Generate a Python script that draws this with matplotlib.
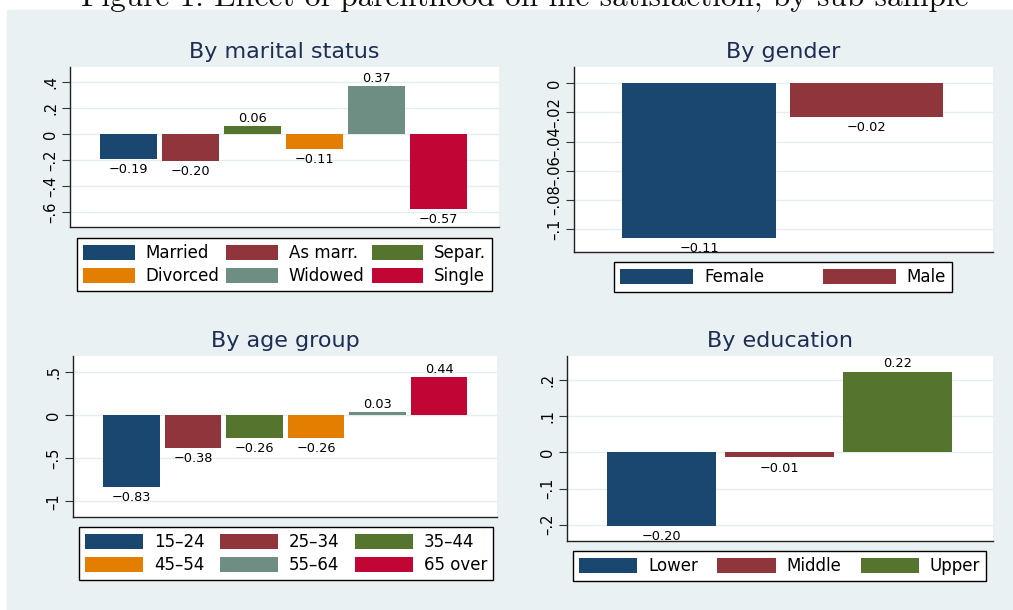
import matplotlib.pyplot as plt
from matplotlib.patches import Rectangle

# values
marital_cats = ["Married", "As marr.", "Separ.", "Divorced", "Widowed", "Single"]
marital_vals = [-0.194, -0.204, 0.061, -0.114, 0.369, -0.574]
marital_yticks = [-0.6, -0.4, -0.2, 0.0, 0.2, 0.4]
marital_ylabels = ["–.6", "–.4", "–.2", "0", ".2", ".4"]

gender_cats = ["Female", "Male"]
gender_vals = [-0.106, -0.023]
gender_yticks = [-0.1, -0.08, -0.06, -0.04, -0.02, 0.0]
gender_ylabels = ["–.1", "–.08", "–.06", "–.04", "–.02", "0"]

age_cats = ["15–24", "25–34", "35–44", "45–54", "55–64", "65 over"]
age_vals = [-0.834, -0.381, -0.262, -0.263, 0.031, 0.438]
age_yticks = [-1.0, -0.5, 0.0, 0.5]
age_ylabels = ["–1", "–.5", "0", ".5"]

educ_cats = ["Lower", "Middle", "Upper"]
educ_vals = [-0.203, -0.014, 0.224]
educ_yticks = [-0.2, -0.1, 0.0, 0.1, 0.2]
educ_ylabels = ["–.2", "–.1", "0", ".1", ".2"]

# stata s2color palette
colors = ["#1a476f", "#90353b", "#55752f", "#e37e00", "#6e8e84", "#c10534"]
bg = "#e9f1f3"
title_col = "#1e2d53"

W, H = 1013, 610
fig = plt.figure(figsize=(W / 100, H / 100), dpi=100)


def px(l, t, r, b):
    # pixel box -> figure fraction [left, bottom, width, height]
    return [l / W, 1 - b / H, (r - l) / W, (b - t) / H]


fig.patches.append(Rectangle((7 / W, 0), 1 - 7 / W, 1 - 10 / H,
                             transform=fig.transFigure, color=bg, zorder=-5))
fig.text(525 / W, 1 - 7 / H,
         "Figure 1: Effect of parenthood on life satisfaction, by sub-sample",
         family=["cmr10", "DejaVu Serif"], fontsize=22.5, ha="center",
         va="baseline", color="#111111")


def panel(box, title, cats, vals, yticks, ylabels, ylim, xlim,
          legbox, ncol, hlen, order=None):
    ax = fig.add_axes(px(*box))
    for i, (c, v) in enumerate(zip(cats, vals)):
        ax.bar(i, v, width=0.92, color=colors[i], label=c, zorder=2)
        txt = f"{v:.2f}".replace("-", "\u2212")
        ax.annotate(txt, (i, v), xytext=(0, 1 if v >= 0 else -3),
                    textcoords="offset points", ha="center",
                    va="bottom" if v >= 0 else "top", fontsize=9.3)
    ax.set_xlim(*xlim)
    ax.set_ylim(*ylim)
    ax.set_xticks([])
    ax.set_yticks(yticks, ylabels, rotation=90, va="center", fontsize=10.5)
    ax.tick_params(axis="y", length=5.5, width=0.8, pad=3, color="#333333")
    ax.grid(axis="y", color="#e4eef1", lw=1)
    ax.set_axisbelow(True)
    for s in ["top", "right"]:
        ax.spines[s].set_visible(False)
    for s in ["left", "bottom"]:
        ax.spines[s].set_color("#222222")
        ax.spines[s].set_linewidth(1.0)
    ax.set_title(title, fontsize=16, color=title_col, pad=6.5)

    h, l = ax.get_legend_handles_labels()
    if order:
        h = [h[k] for k in order]
        l = [l[k] for k in order]
    x0, y0, x1, y1 = legbox
    leg = ax.legend(h, l, ncol=ncol, mode="expand", loc="upper left",
                    bbox_to_anchor=(x0 / W, 1 - y1 / H, (x1 - x0) / W, (y1 - y0) / H),
                    bbox_transform=fig.transFigure, fontsize=12,
                    fancybox=False, edgecolor="black", framealpha=1,
                    borderpad=0.35, borderaxespad=0, handlelength=hlen,
                    handleheight=1.0, handletextpad=0.65, labelspacing=0.3,
                    columnspacing=0.8)
    leg.get_frame().set_linewidth(1.0)
    return ax


panel((70, 67, 499, 227), "By marital status", marital_cats, marital_vals,
      marital_yticks, marital_ylabels, (-0.715, 0.515), (-0.95, 5.98),
      (77, 238, 492, 291), 3, 3.1, order=[0, 3, 1, 4, 2, 5])
panel((574, 67, 993, 252), "By gender", gender_cats, gender_vals,
      gender_yticks, gender_ylabels, (-0.1158, 0.0112), (-0.75, 1.757),
      (614, 262, 952, 291), 2, 4.4)
panel((73, 356, 497, 517), "By age group", age_cats, age_vals,
      age_yticks, age_ylabels, (-1.182, 0.686), (-0.95, 5.94),
      (79, 527, 493, 580), 3, 3.5, order=[0, 3, 1, 4, 2, 5])
panel((567, 356, 993, 541), "By education", educ_cats, educ_vals,
      educ_yticks, educ_ylabels, (-0.2456, 0.2675), (-0.80, 2.81),
      (573, 551, 986, 581), 3, 3.5)

fig.savefig("out.png", dpi=100)
